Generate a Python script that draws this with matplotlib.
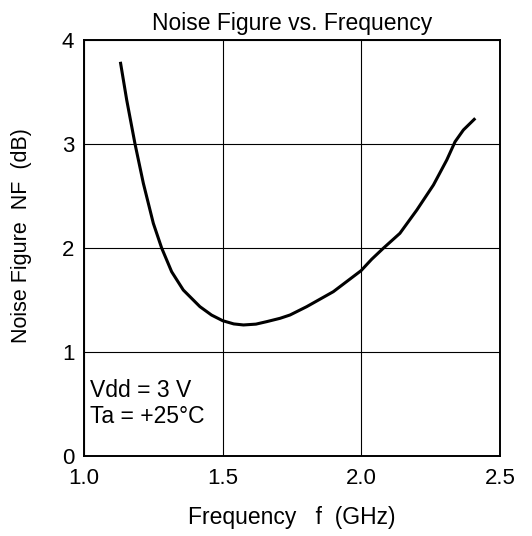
import matplotlib
matplotlib.use("Agg")
import matplotlib.pyplot as plt

plt.rcParams["font.family"] = ["Liberation Sans", "DejaVu Sans"]

# NF curve
freq_ghz = [1.132, 1.154, 1.184, 1.214, 1.250, 1.280, 1.316, 1.358, 1.418,
            1.460, 1.500, 1.540, 1.575, 1.620, 1.659, 1.707, 1.743, 1.803,
            1.899, 1.999, 2.037, 2.079, 2.139, 2.200, 2.260, 2.308, 2.338,
            2.368, 2.407]
nf_db = [3.776, 3.423, 3.000, 2.622, 2.237, 2.000, 1.772, 1.596, 1.436,
         1.355, 1.301, 1.270, 1.260, 1.268, 1.292, 1.324, 1.356, 1.436,
         1.580, 1.782, 1.891, 1.997, 2.141, 2.365, 2.606, 2.846, 3.022,
         3.135, 3.237]

x_ticks = [1.0, 1.5, 2.0, 2.5]
x_tick_labels = ["1.0", "1.5", "2.0", "2.5"]
y_ticks = [0, 1, 2, 3, 4]
cond_lines = ["Vdd = 3 V", "Ta = +25\u00b0C"]

fig = plt.figure(figsize=(5.32, 5.36), dpi=100)
ax = fig.add_axes([84 / 532, 1 - 456 / 536, 416 / 532, 416 / 536])

ax.plot(freq_ghz, nf_db, color="black", lw=2.2, solid_joinstyle="round")

ax.set_xlim(1.0, 2.5)
ax.set_ylim(0, 4)
ax.set_xticks(x_ticks)
ax.set_xticklabels(x_tick_labels)
ax.set_yticks(y_ticks)
ax.tick_params(length=0, labelsize=16)
ax.tick_params(axis="x", pad=9)
ax.tick_params(axis="y", pad=7)
ax.grid(True, color="black", lw=0.8)
for s in ax.spines.values():
    s.set_linewidth(1.4)

ax.set_title("Noise Figure vs. Frequency", fontsize=16.5, pad=7)
ax.set_xlabel("Frequency   f  (GHz)", fontsize=16.5, labelpad=12)
ax.set_ylabel("Noise Figure  NF  (dB)", fontsize=15.5)
ax.yaxis.set_label_coords(-0.125, 0.53)

ax.text(0.0144, 0.142, cond_lines[0], fontsize=16.5, va="baseline",
        ha="left", transform=ax.transAxes)
ax.text(0.0144, 0.079, cond_lines[1], fontsize=16.5, va="baseline",
        ha="left", transform=ax.transAxes)

fig.savefig("out.png", dpi=100)
